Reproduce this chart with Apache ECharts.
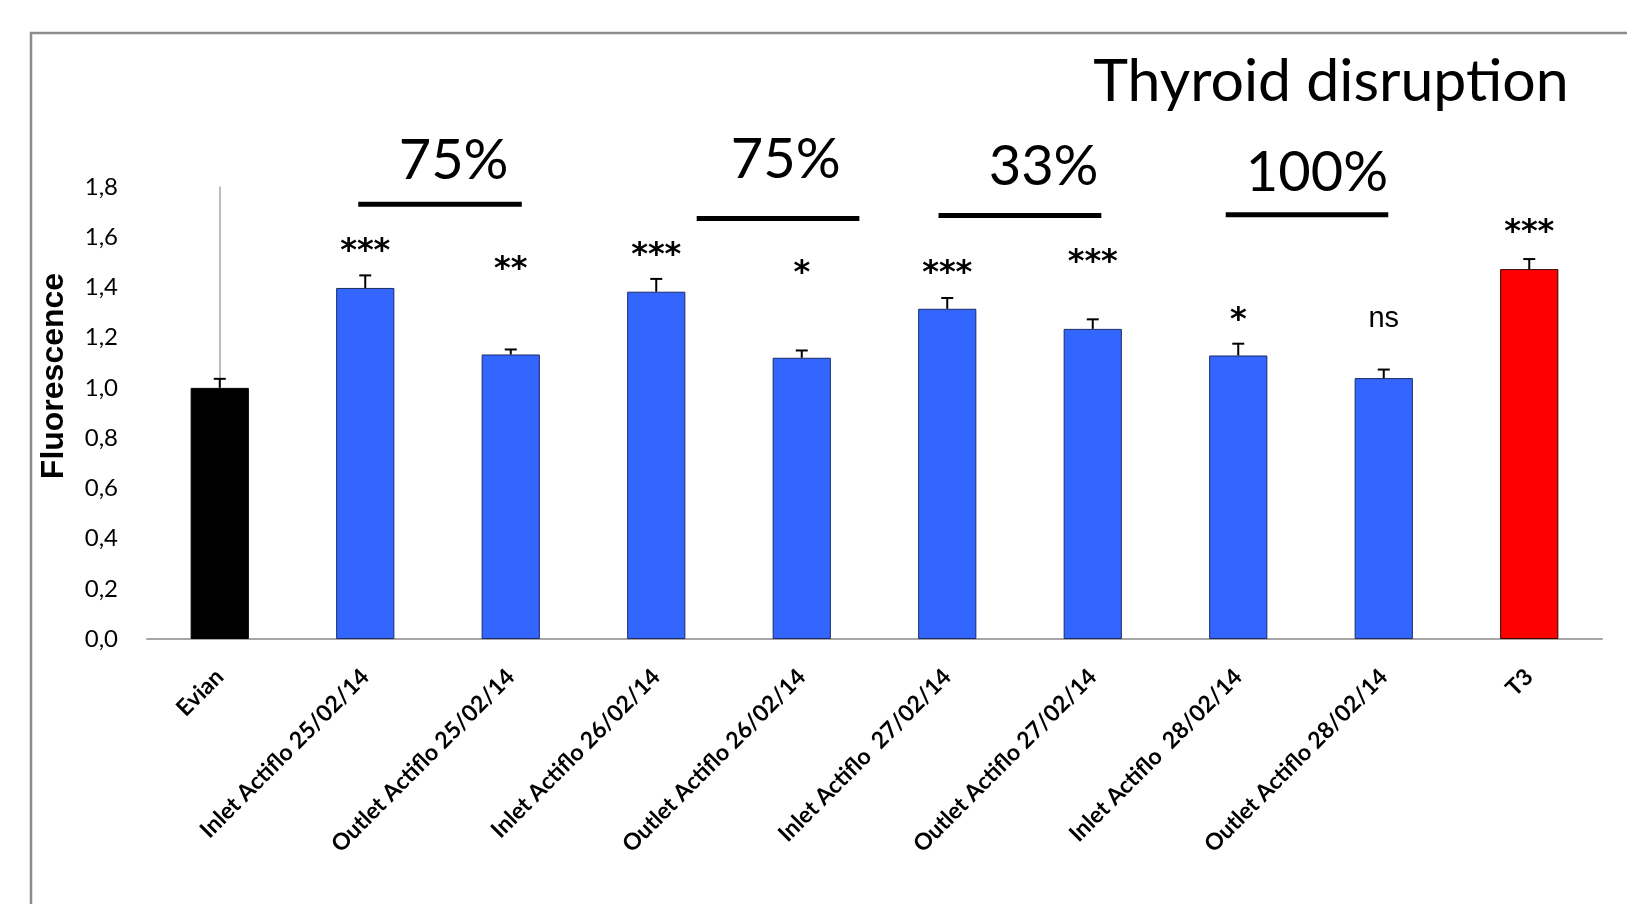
<!DOCTYPE html>
<html>
<head>
<meta charset="utf-8">
<title>Thyroid disruption</title>
<script src="https://cdn.jsdelivr.net/npm/echarts@6/dist/echarts.min.js"></script>
<style>
  html, body { margin: 0; padding: 0; background: #ffffff; }
  #chart { width: 1627px; height: 904px; }
</style>
</head>
<body>
<div id="chart"></div>
<script>
// Samples along the x axis
const categories = [
  'Evian',
  'Inlet Actiflo 25/02/14',
  'Outlet Actiflo 25/02/14',
  'Inlet Actiflo 26/02/14',
  'Outlet Actiflo 26/02/14',
  'Inlet Actiflo  27/02/14',
  'Outlet Actiflo 27/02/14',
  'Inlet Actiflo  28/02/14',
  'Outlet Actiflo 28/02/14',
  'T3'
];
// Mean relative fluorescence and its standard error
const fluorescence = [1.00, 1.398, 1.133, 1.383, 1.120, 1.315, 1.235, 1.129, 1.039, 1.473];
const standardError = [0.036, 0.050, 0.020, 0.051, 0.029, 0.043, 0.038, 0.047, 0.034, 0.040];
const barFill = ['#000000', '#3366ff', '#3366ff', '#3366ff', '#3366ff', '#3366ff', '#3366ff', '#3366ff', '#3366ff', '#ff0000'];
const barEdge = ['#000000', '#1b2a66', '#1b2a66', '#1b2a66', '#1b2a66', '#1b2a66', '#1b2a66', '#1b2a66', '#1b2a66', '#3a0000'];

// Significance versus Evian, and the height at which each mark sits
const significance = ['', '***', '**', '***', '*', '***', '***', '*', 'ns', '***'];
const significanceLevel = [null, 1.570, 1.500, 1.554, 1.484, 1.484, 1.526, 1.296, 1.267, 1.644];

// Removal rate between inlet and outlet of each day (span in category units)
const removalLabels = ['75%', '75%', '33%', '100%'];
const removalFrom = [0.952, 3.278, 4.940, 6.914];
const removalTo = [2.076, 4.396, 6.059, 8.031];
const removalLevel = [1.731, 1.675, 1.687, 1.689];
const removalLabelAt = [1.607, 3.890, 5.662, 7.541];
const removalLabelLevel = [1.905, 1.908, 1.880, 1.857];

// Y axis ticks
const yMin = 0, yMax = 1.8, yStep = 0.2;

const chart = echarts.init(document.getElementById('chart'), null, { renderer: 'canvas' });

const barData = fluorescence.map((v, i) => ({
  value: v,
  itemStyle: { color: barFill[i], borderColor: barEdge[i], borderWidth: 1 }
}));
const errorData = fluorescence.map((v, i) => [i, v, standardError[i]]);
const sigData = significance
  .map((s, i) => [i, significanceLevel[i], s])
  .filter(d => d[2] !== '');
const removalData = removalLabels.map((t, i) =>
  [removalFrom[i], removalTo[i], removalLevel[i], removalLabelAt[i], removalLabelLevel[i], t]);

const option = {
  animation: false,
  backgroundColor: '#ffffff',
  grid: { left: 147, right: 25, top: 187, bottom: 265, containLabel: false },
  xAxis: [
    {
      type: 'category',
      data: categories,
      axisLine: { show: true, lineStyle: { color: '#a6a6a6', width: 2 } },
      axisTick: { show: false },
      splitLine: { show: false },
      axisLabel: {
        interval: 0,
        rotate: 45,
        margin: 34,
        color: '#000000',
        fontFamily: 'Lato',
        fontWeight: 'bold',
        fontSize: 23
      }
    },
    {
      type: 'value',
      min: -0.5,
      max: 9.5,
      show: false
    }
  ],
  yAxis: {
    type: 'value',
    min: yMin,
    max: yMax,
    interval: yStep,
    axisLine: { show: true, lineStyle: { color: '#a6a6a6', width: 1.5 } },
    axisTick: { show: false },
    splitLine: { show: false },
    axisLabel: {
      margin: 29,
      color: '#000000',
      fontFamily: 'Lato',
      fontSize: 24,
      formatter: v => v.toFixed(1).replace('.', ',')
    }
  },
  graphic: [
    {
      type: 'rect',
      shape: { x: 31, y: 33, width: 1800, height: 1000 },
      style: { fill: 'none', stroke: '#8c8c8c', lineWidth: 2.5 },
      silent: true,
      z: -1
    },
    {
      type: 'text',
      x: 1331,
      y: 82,
      style: {
        text: 'Thyroid disruption',
        font: '59px Lato',
        fill: '#000000',
        align: 'center',
        verticalAlign: 'middle'
      }
    },
    {
      type: 'text',
      x: 54,
      y: 376,
      rotation: Math.PI / 2,
      style: {
        text: 'Fluorescence',
        font: 'bold 32px "Liberation Sans"',
        fill: '#000000',
        align: 'center',
        verticalAlign: 'middle'
      }
    }
  ],
  series: [
    {
      type: 'bar',
      data: barData,
      barWidth: '40%',
      z: 2
    },
    {
      type: 'custom',
      data: errorData,
      z: 3,
      renderItem: (params, api) => {
        const i = api.value(0), v = api.value(1), e = api.value(2);
        const base = api.coord([i, v]);
        const top = api.coord([i, v + e]);
        const cap = 6;
        return {
          type: 'group',
          children: [
            { type: 'line', shape: { x1: base[0], y1: base[1], x2: top[0], y2: top[1] },
              style: { stroke: '#000000', lineWidth: 2 } },
            { type: 'line', shape: { x1: top[0] - cap, y1: top[1], x2: top[0] + cap, y2: top[1] },
              style: { stroke: '#000000', lineWidth: 2 } }
          ]
        };
      }
    },
    {
      type: 'custom',
      data: sigData,
      z: 4,
      clip: false,
      renderItem: (params, api) => {
        const i = api.value(0), lvl = api.value(1);
        const text = sigData[params.dataIndex][2];
        const p = api.coord([i, lvl]);
        const isNs = text === 'ns';
        return {
          type: 'text',
          x: p[0],
          y: p[1] + (isNs ? -2 : 7),
          style: {
            text: text,
            font: isNs ? '29px "Liberation Sans"' : 'bold 32px "DejaVu Sans"',
            fill: '#000000',
            align: 'center',
            verticalAlign: 'middle'
          }
        };
      }
    },
    {
      type: 'custom',
      xAxisIndex: 1,
      data: removalData,
      z: 4,
      clip: false,
      renderItem: (params, api) => {
        const d = removalData[params.dataIndex];
        const a = api.coord([d[0], d[2]]);
        const b = api.coord([d[1], d[2]]);
        const t = api.coord([d[3], d[4]]);
        return {
          type: 'group',
          children: [
            { type: 'line', shape: { x1: a[0], y1: a[1], x2: b[0], y2: b[1] },
              style: { stroke: '#000000', lineWidth: 5 } },
            { type: 'text', x: t[0], y: t[1],
              style: { text: d[5], font: '56px Lato', fill: '#000000', align: 'center', verticalAlign: 'middle' } }
          ]
        };
      }
    }
  ]
};

chart.setOption(option);
</script>
</body>
</html>
